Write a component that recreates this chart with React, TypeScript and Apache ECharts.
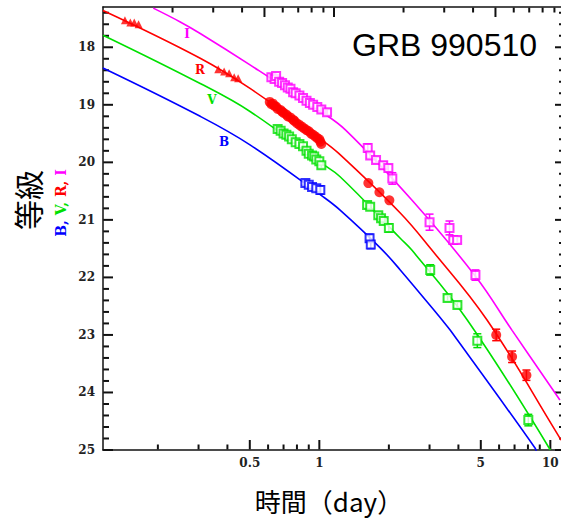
import React, { useEffect, useRef } from "react";
import * as echarts from "echarts";

// ---- axis ranges (bottom: days, top: 10^4 s) ----
const X_MIN = 1 / 8.64;
const X_MAX = 100 / 8.64;
const TOP_MIN = 1;
const TOP_MAX = 100;
const Y_MIN = 17.3;
const Y_MAX = 25;

// ---- tick values ----
const X_MAJOR = [0.5, 1, 5, 10];
const X_MINOR = [0.2, 0.3, 0.4, 0.6, 0.7, 0.8, 0.9, 2, 3, 4, 6, 7, 8, 9];
const TOP_MAJOR = [5, 10, 50];
const TOP_MINOR = [2, 3, 4, 6, 7, 8, 9, 20, 30, 40, 60, 70, 80, 90];
const Y_MAJOR = [18, 19, 20, 21, 22, 23, 24, 25];
const Y_MINOR = [17.4, 17.6, 17.8, 18.2, 18.4, 18.6, 18.8, 19.2, 19.4, 19.6, 19.8, 20.2, 20.4, 20.6, 20.8, 21.2, 21.4, 21.6, 21.8, 22.2, 22.4, 22.6, 22.8, 23.2, 23.4, 23.6, 23.8, 24.2, 24.4, 24.6, 24.8];

// ---- fitted curves: [days, mag] ----
const I_LINE = [[0.191, 17.32], [0.25, 17.56], [0.305, 17.76], [0.503, 18.31], [1.0, 19.1], [1.3, 19.44], [2.52, 20.66], [4.74, 21.98], [6.83, 22.92], [11.0, 24.13]];
const R_LINE = [[0.1157, 17.36], [0.305, 18.19], [0.503, 18.72], [1.0, 19.58], [1.21, 19.84], [2.24, 20.88], [3.02, 21.49], [5.32, 22.74], [10.69, 24.71], [11.13, 24.83]];
const V_LINE = [[0.1157, 17.79], [0.305, 18.63], [0.503, 19.12], [1.0, 19.99], [1.23, 20.25], [2.24, 21.32], [2.52, 21.53], [4.37, 22.74], [10.0, 25.0]];
const B_LINE = [[0.1157, 18.36], [0.305, 19.2], [0.503, 19.7], [1.04, 20.6], [1.23, 20.83], [1.84, 21.49], [2.24, 21.87], [3.4, 22.74], [3.69, 22.92], [8.6, 24.97], [8.7, 25.05]];

// ---- observations: [days, mag, error] ----
const I_OBS = [
  [0.62, 18.52, 0], [0.64, 18.55, 0], [0.65, 18.5, 0], [0.67, 18.6, 0], [0.69, 18.62, 0], [0.71, 18.66, 0],
  [0.73, 18.7, 0], [0.75, 18.72, 0], [0.77, 18.78, 0], [0.79, 18.8, 0], [0.82, 18.84, 0], [0.85, 18.88, 0],
  [0.88, 18.93, 0], [0.91, 18.97, 0], [0.94, 19.0, 0], [0.98, 19.04, 0], [1.02, 19.08, 0.05], [1.08, 19.13, 0.05],
  [1.62, 19.75, 0.07], [1.66, 19.88, 0.05], [1.76, 19.96, 0.05], [1.89, 20.05, 0.06], [1.99, 20.1, 0.06], [2.07, 20.28, 0.1],
  [3.0, 21.04, 0.14], [3.66, 21.14, 0.12], [3.8, 21.35, 0.05], [3.95, 21.35, 0.05], [4.74, 21.96, 0.09],
];
const R_EARLY = [
  [0.144, 17.53, 0], [0.152, 17.57, 0], [0.158, 17.57, 0], [0.165, 17.6, 0],
  [0.365, 18.38, 0], [0.387, 18.42, 0], [0.407, 18.45, 0], [0.428, 18.52, 0], [0.445, 18.54, 0],
];
const R_OBS = [
  [0.61, 18.95, 0], [0.62, 18.99, 0], [0.63, 18.98, 0], [0.64, 19.02, 0], [0.65, 19.03, 0], [0.66, 19.07, 0],
  [0.68, 19.09, 0], [0.69, 19.12, 0], [0.7, 19.14, 0], [0.72, 19.17, 0], [0.73, 19.2, 0], [0.75, 19.22, 0],
  [0.77, 19.26, 0], [0.78, 19.28, 0], [0.8, 19.32, 0], [0.82, 19.35, 0], [0.84, 19.38, 0], [0.86, 19.41, 0],
  [0.88, 19.44, 0], [0.9, 19.46, 0], [0.92, 19.5, 0], [0.94, 19.52, 0], [0.96, 19.55, 0], [0.98, 19.58, 0],
  [1.0, 19.6, 0], [1.01, 19.64, 0], [1.02, 19.68, 0],
  [1.63, 20.36, 0], [1.82, 20.52, 0], [2.01, 20.66, 0],
  [5.83, 23.0, 0.1], [6.83, 23.38, 0.1], [7.88, 23.7, 0.09],
];
const V_OBS = [
  [0.66, 19.42, 0], [0.68, 19.45, 0], [0.7, 19.5, 0], [0.72, 19.52, 0], [0.74, 19.55, 0], [0.76, 19.6, 0],
  [0.79, 19.65, 0], [0.82, 19.68, 0], [0.85, 19.72, 0], [0.88, 19.8, 0], [0.9, 19.85, 0], [0.93, 19.88, 0],
  [0.95, 19.9, 0], [0.97, 19.95, 0], [1.0, 19.98, 0], [1.02, 20.05, 0.05],
  [1.61, 20.74, 0.05], [1.66, 20.77, 0.05], [1.8, 20.92, 0.05], [1.85, 20.97, 0.05], [1.9, 21.02, 0.05], [2.0, 21.14, 0.07],
  [3.02, 21.87, 0.09], [3.59, 22.36, 0.05], [3.96, 22.48, 0.05], [4.83, 23.1, 0.12], [8.03, 24.48, 0.1],
];
const B_OBS = [
  [0.87, 20.36, 0.04], [0.9, 20.39, 0.04], [0.93, 20.43, 0.05], [0.97, 20.45, 0.05], [1.01, 20.48, 0.07],
  [1.65, 21.32, 0.07], [1.67, 21.43, 0.07],
];

const C_I = "#ff00ff";
const C_R = "#ff0000";
const C_V = "#00e000";
const C_B = "#0000ff";
const AXIS_C = "#111";
const TICK_FONT = "DejaVu Serif";

const GRID_W = 462;
const GRID_H = 443;
const MAG_PER_PX = (Y_MAX - Y_MIN) / GRID_H;
const DEX_PER_PX = Math.log10(X_MAX / X_MIN) / GRID_W;

function errSeries(data: number[][], color: string) {
  return {
    type: "custom",
    xAxisIndex: 0,
    yAxisIndex: 0,
    z: 3,
    clip: true,
    data: data.filter((d) => d[2] > 0),
    encode: { x: 0, y: 1 },
    renderItem: (params: any, api: any) => {
      const t = api.value(0);
      const m = api.value(1);
      const e = api.value(2);
      const a = api.coord([t, m - e]);
      const b = api.coord([t, m + e]);
      const w = 4;
      const style = { stroke: color, lineWidth: 1.5 };
      return {
        type: "group",
        children: [
          { type: "line", shape: { x1: a[0], y1: a[1], x2: b[0], y2: b[1] }, style },
          { type: "line", shape: { x1: a[0] - w, y1: a[1], x2: a[0] + w, y2: a[1] }, style },
          { type: "line", shape: { x1: b[0] - w, y1: b[1], x2: b[0] + w, y2: b[1] }, style },
        ],
      };
    },
  };
}

// tick marks as short two-point line series, configured like the curves; kind: 0 bottom, 1 top, 2 left, 3 right
function tickLines(values: number[], kind: number, lenPx: number) {
  return values.map((v) => {
    let data: number[][];
    if (kind === 0) data = [[v, Y_MAX - 0.01], [v, Y_MAX - lenPx * MAG_PER_PX]];
    else if (kind === 1) data = [[v, Y_MIN + 0.01], [v, Y_MIN + lenPx * MAG_PER_PX]];
    else if (kind === 2) data = [[X_MIN * 1.002, v], [X_MIN * Math.pow(10, lenPx * DEX_PER_PX), v]];
    else data = [[X_MAX / 1.002, v], [X_MAX / Math.pow(10, lenPx * DEX_PER_PX), v]];
    return {
      type: "line",
      xAxisIndex: kind === 1 ? 1 : 0,
      yAxisIndex: 0,
      data,
      smooth: false,
      showSymbol: false,
      symbol: "none",
      clip: true,
      lineStyle: { color: AXIS_C, width: 2 },
      z: 2,
    };
  });
}

function lineSeries(data: number[][], color: string) {
  return {
    type: "line",
    xAxisIndex: 0,
    yAxisIndex: 0,
    data,
    smooth: 0.4,
    showSymbol: false,
    symbol: "none",
    clip: true,
    lineStyle: { color, width: 1.6 },
    z: 2,
  };
}

function pointSeries(data: number[][], color: string, symbol: string, size: number, filled: boolean) {
  return {
    type: "scatter",
    xAxisIndex: 0,
    yAxisIndex: 0,
    data: data.map((d) => [d[0], d[1]]),
    symbol,
    symbolSize: size,
    itemStyle: filled ? { color } : { color, borderColor: color, borderWidth: 1.5 },
    z: 4,
  };
}

function xAxisCfg(position: "top" | "bottom", min: number, max: number, labels: number[] | null) {
  return {
    type: "log",
    logBase: 10,
    position,
    min,
    max,
    gridIndex: 0,
    axisLine: { show: true, onZero: false, lineStyle: { color: AXIS_C, width: 1.5 } },
    axisTick: { show: false },
    axisLabel: labels
      ? { show: true, customValues: labels, margin: 7, color: "#222", fontFamily: TICK_FONT, fontWeight: "bold", fontSize: 12, formatter: (v: number) => String(v) }
      : { show: false },
    splitLine: { show: false },
    minorTick: { show: false },
  };
}

function yAxisCfg(position: "left" | "right", labels: number[] | null) {
  return {
    type: "value",
    position,
    inverse: true,
    min: Y_MIN,
    max: Y_MAX,
    gridIndex: 0,
    axisLine: { show: true, onZero: false, lineStyle: { color: AXIS_C, width: 1.5 } },
    axisTick: { show: false },
    axisLabel: labels
      ? { show: true, customValues: labels, margin: 8, color: "#222", fontFamily: TICK_FONT, fontWeight: "bold", fontSize: 12, formatter: (v: number) => String(v) }
      : { show: false },
    splitLine: { show: false },
  };
}

const TEXTS: any[] = [
  { type: "text", x: 352, y: 45, z: 20, style: { text: "GRB 990510", font: "32px 'Liberation Sans', Arial, sans-serif", fill: "#000", textVerticalAlign: "middle" } },
  { type: "text", x: 329, y: 500, z: 20, style: { text: "時間（day）", font: "26px 'Noto Sans CJK JP', sans-serif", fill: "#000", textAlign: "center", textVerticalAlign: "middle" } },
  { type: "text", x: 27, y: 200, z: 20, rotation: Math.PI / 2, style: { text: "等級", font: "30px 'Noto Sans CJK JP', sans-serif", fill: "#000", textAlign: "center", textVerticalAlign: "middle" } },
  {
    type: "text", x: 61, y: 203, z: 20, rotation: Math.PI / 2,
    style: {
      text: "{b|B,} {v|V,} {r|R,} {i|I}",
      textAlign: "center", textVerticalAlign: "middle",
      rich: {
        b: { fill: C_B, font: "bold 14px 'DejaVu Serif', serif" },
        v: { fill: C_V, font: "bold 14px 'DejaVu Serif', serif" },
        r: { fill: C_R, font: "bold 14px 'DejaVu Serif', serif" },
        i: { fill: C_I, font: "bold 14px 'DejaVu Serif', serif" },
      },
      font: "bold 14px 'DejaVu Serif', serif",
    },
  },
  { type: "text", x: 187, y: 34, z: 20, style: { text: "I", font: "bold 12px 'DejaVu Serif', serif", fill: C_I, textAlign: "center", textVerticalAlign: "middle" } },
  { type: "text", x: 200, y: 70, z: 20, style: { text: "R", font: "bold 12px 'DejaVu Serif', serif", fill: C_R, textAlign: "center", textVerticalAlign: "middle" } },
  { type: "text", x: 212, y: 100, z: 20, style: { text: "V", font: "bold 12px 'DejaVu Serif', serif", fill: C_V, textAlign: "center", textVerticalAlign: "middle" } },
  { type: "text", x: 224, y: 142, z: 20, style: { text: "B", font: "bold 12px 'DejaVu Serif', serif", fill: C_B, textAlign: "center", textVerticalAlign: "middle" } },
];

export default function App() {
  const ref = useRef<HTMLDivElement>(null);
  useEffect(() => {
    const chart = echarts.init(ref.current!, null, { renderer: "svg" });
    chart.setOption({
      animation: false,
      backgroundColor: "#ffffff",
      grid: { left: 103, top: 7, width: GRID_W, height: GRID_H, containLabel: false, outerBoundsMode: "none" },
      xAxis: [
        xAxisCfg("bottom", X_MIN, X_MAX, X_MAJOR),
        xAxisCfg("top", TOP_MIN, TOP_MAX, null),
      ],
      yAxis: [
        yAxisCfg("left", Y_MAJOR),
        yAxisCfg("right", null),
      ],
      series: [
        ...tickLines(X_MAJOR, 0, 10),
        ...tickLines(X_MINOR, 0, 5.5),
        ...tickLines(TOP_MAJOR, 1, 10),
        ...tickLines(TOP_MINOR, 1, 5.5),
        ...tickLines(Y_MAJOR, 2, 10),
        ...tickLines(Y_MINOR, 2, 6),
        ...tickLines(Y_MAJOR, 3, 10),
        ...tickLines(Y_MINOR, 3, 6),
        lineSeries(B_LINE, C_B),
        lineSeries(V_LINE, C_V),
        lineSeries(R_LINE, C_R),
        lineSeries(I_LINE, C_I),
        errSeries(B_OBS, C_B),
        errSeries(V_OBS, C_V),
        errSeries(R_OBS, C_R),
        errSeries(I_OBS, C_I),
        pointSeries(B_OBS, C_B, "emptyRect", 8, false),
        pointSeries(V_OBS, C_V, "emptyRect", 8, false),
        pointSeries(I_OBS, C_I, "emptyRect", 8, false),
        pointSeries(R_OBS, C_R, "circle", 10, true),
        pointSeries(R_EARLY, C_R, "triangle", 8, true),
      ],
      graphic: { elements: TEXTS },
    });
    return () => chart.dispose();
  }, []);
  return <div ref={ref} style={{ position: "absolute", left: 0, top: 0, width: 561, height: 520, background: "#fff" }} />;
}
